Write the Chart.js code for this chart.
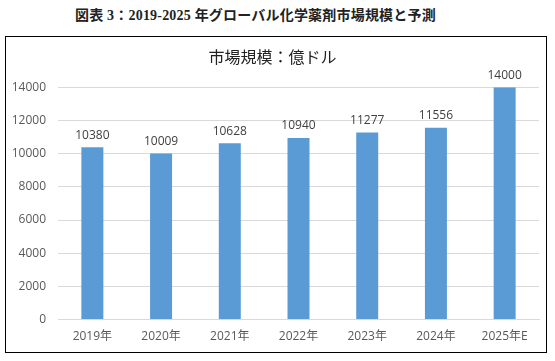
<!DOCTYPE html>
<html>
<head>
<meta charset="utf-8">
<script src="https://cdn.jsdelivr.net/npm/chart.js@4.4.1/dist/chart.umd.min.js"></script>
<style>
  body { margin: 0; background: #fff; width: 555px; height: 361px; position: relative; overflow: hidden; }
  #title { position: absolute; left: 75px; top: 4px; white-space: nowrap;
    font: bold 14px "Liberation Serif", "Noto Sans CJK JP", serif; color: #222; letter-spacing: 0.2px; }
  #box { position: absolute; left: 5px; top: 36px; width: 540px; height: 315px; border: 1px solid #000; }
</style>
</head>
<body>
<div id="title">図表 3：2019-2025 年グローバル化学薬剤市場規模と予測</div>
<div id="box"><canvas id="chart" width="540" height="315"></canvas></div>
<script>
var years = ["2019年", "2020年", "2021年", "2022年", "2023年", "2024年", "2025年E"];
var marketSize = [10380, 10009, 10628, 10940, 11277, 11556, 14000];
var yTicks = [0, 2000, 4000, 6000, 8000, 10000, 12000, 14000];

var FONT = "'Open Sans', 'Noto Sans CJK JP', sans-serif";

// value labels on top of bars
var barLabels = {
  id: "barLabels",
  afterDatasetsDraw: function (chart) {
    var ctx = chart.ctx;
    var meta = chart.getDatasetMeta(0);
    ctx.save();
    ctx.font = "12px " + FONT;
    ctx.fillStyle = "#404040";
    ctx.textAlign = "center";
    ctx.textBaseline = "bottom";
    meta.data.forEach(function (bar, i) {
      ctx.fillText(marketSize[i], bar.x, bar.y - 6);
    });
    ctx.restore();
  }
};

new Chart("chart", {
  type: "bar",
  data: {
    labels: years,
    datasets: [{
      data: marketSize,
      backgroundColor: "#5b9bd5",
      barPercentage: 0.32,
      categoryPercentage: 1
    }]
  },
  options: {
    responsive: false,
    animation: false,
    layout: { padding: { left: 0, right: 7, top: 6, bottom: 6 } },
    plugins: {
      legend: { display: false },
      tooltip: { enabled: false },
      title: {
        display: true,
        text: "市場規模：億ドル",
        color: "#222",
        font: { family: FONT, size: 16, weight: "normal" },
        padding: { top: 6, bottom: 19 }
      }
    },
    scales: {
      x: {
        grid: { display: false },
        border: { color: "#d9d9d9" },
        ticks: { color: "#595959", font: { family: FONT, size: 12 }, padding: 2 }
      },
      y: {
        min: 0,
        max: 14000,
        afterBuildTicks: function (axis) {
          axis.ticks = yTicks.map(function (v) { return { value: v }; });
        },
        afterFit: function (axis) { axis.width = 52; },
        grid: { color: "#d9d9d9", drawTicks: false },
        border: { display: false },
        ticks: {
          color: "#595959", font: { family: FONT, size: 12 }, padding: 12,
          callback: function (v) { return String(v); }
        }
      }
    }
  },
  plugins: [barLabels]
});
</script>
</body>
</html>
